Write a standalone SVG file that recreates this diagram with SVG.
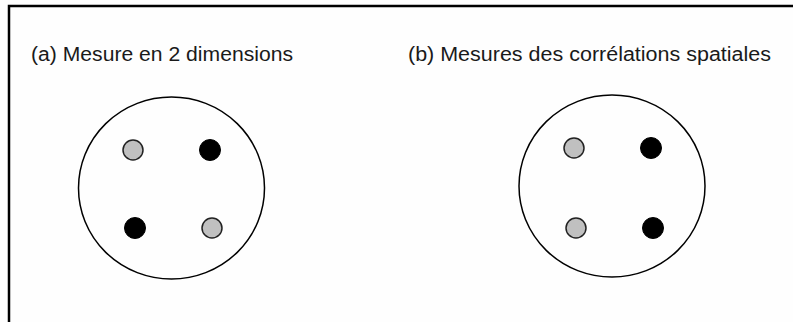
<svg xmlns="http://www.w3.org/2000/svg" width="793" height="322" viewBox="0 0 793 322">
<style>
.lbl{font-family:"Liberation Sans",Arial,sans-serif;font-size:20px;fill:#1a1a1a}
.ring{fill:none;stroke:#000;stroke-width:1.5}
.g{fill:#c0c0c0;stroke:#222;stroke-width:1.5}
.k{fill:#000;stroke:#000;stroke-width:1}
</style>
<rect width="793" height="322" fill="#fefefe"/>
<path d="M9,322 V6 H793" fill="none" stroke="#000" stroke-width="2.5"/>
<g id="panel-a">
<text class="lbl" x="31" y="61" textLength="262" lengthAdjust="spacingAndGlyphs">(a) Mesure en 2 dimensions</text>
<ellipse class="ring" cx="171.5" cy="188" rx="93" ry="91"/>
<circle class="g" cx="133" cy="150" r="10"/>
<circle class="k" cx="210" cy="150" r="10.5"/>
<circle class="k" cx="135" cy="228" r="10.5"/>
<circle class="g" cx="212" cy="228" r="10"/>
</g>
<g id="panel-b">
<text class="lbl" x="408" y="61" textLength="363" lengthAdjust="spacingAndGlyphs">(b) Mesures des corrélations spatiales</text>
<ellipse class="ring" cx="612" cy="186" rx="93" ry="91"/>
<circle class="g" cx="574" cy="148" r="10"/>
<circle class="k" cx="651" cy="148" r="10.5"/>
<circle class="g" cx="576" cy="228" r="10"/>
<circle class="k" cx="653" cy="228" r="10.5"/>
</g>
<g id="connectors"/>
</svg>
